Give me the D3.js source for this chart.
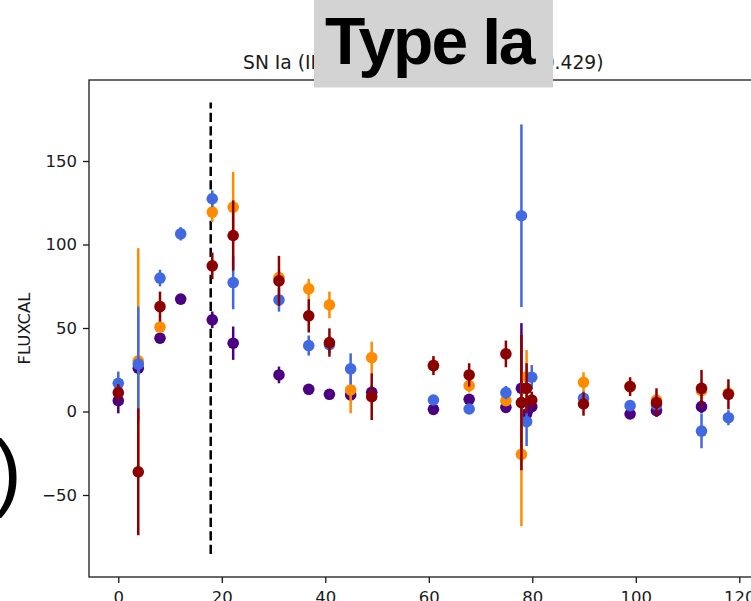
<!DOCTYPE html>
<html>
<head>
<meta charset="utf-8">
<script src="https://cdn.jsdelivr.net/npm/d3@7"></script>
<style>
  html, body { margin: 0; padding: 0; background: #fff; overflow: hidden; }
  svg { display: block; }
  .tick text { font-family: "DejaVu Sans", sans-serif; font-size: 16.5px; fill: #1a1a1a; }
</style>
</head>
<body>
<svg id="chart" width="751" height="601"></svg>
<script>
// Light curve: FLUXCAL vs. days since first detection, one series per passband.
const xTicks = [0, 20, 40, 60, 80, 100, 120];
const yTicks = [-50, 0, 50, 100, 150];

const bandNames  = ["u", "r", "g", "i"];
const bandColors = ["indigo", "darkorange", "royalblue", "darkred"];

const uDays = [0, 3.86, 8.06, 12.06, 18.16, 22.2, 31.05, 36.8, 40.8, 44.9, 48.97, 60.9, 67.8, 74.9, 77.9, 78.9, 79.9, 98.9, 104.0, 112.7];
const uFlux = [6.5, 25.9, 43.9, 67.3, 54.9, 40.9, 21.9, 13.3, 10.3, 9.9, 11.5, 1.3, 7.3, 2.5, 13.9, -1.5, 2.9, -1.5, 0.5, 2.9];
const uErr  = [7.6, 4, 3, 3, 5, 10, 5, 3, 3, 3, 4, 3, 3, 3, 39, 5, 4, 3, 3, 4];

const rDays = [3.86, 8.06, 18.16, 22.2, 31.05, 36.8, 40.8, 44.9, 48.97, 60.9, 67.8, 74.9, 77.9, 78.9, 89.9, 98.9, 104.0, 112.7, 117.9];
const rFlux = [30.4, 50.5, 119.4, 122.4, 80.2, 73.4, 63.8, 12.9, 32.3, 27.6, 15.5, 6.5, -25.7, 20.8, 17.5, 15.0, 6.9, 12.5, 10.9];
const rErr  = [67.4, 3, 6, 21, 4, 6, 8, 14, 9.5, 4, 4, 3, 43, 16, 6, 4, 4, 5, 4];

const gDays = [0, 3.86, 8.06, 12.06, 18.16, 22.2, 31.05, 36.8, 40.8, 44.9, 60.9, 67.8, 74.9, 77.9, 78.9, 79.9, 89.9, 98.9, 104.0, 112.7, 117.9];
const gFlux = [16.9, 28.4, 79.9, 106.4, 127.4, 77.2, 66.8, 39.5, 40.0, 25.5, 6.9, 1.5, 11.3, 117.2, -6.1, 20.5, 7.9, 3.5, 3.9, -11.7, -3.7];
const gErr  = [7, 34.4, 5, 4, 5, 16, 7, 6, 5, 9.3, 3, 3, 4, 54.7, 14.6, 7.3, 4, 3, 3, 10.3, 4.5];

const iDays = [0, 3.86, 8.06, 18.16, 22.2, 31.05, 36.8, 40.8, 48.97, 60.9, 67.8, 74.9, 77.9, 78.9, 79.9, 89.9, 98.9, 104.0, 112.7, 117.9];
const iFlux = [11.3, -36.1, 62.8, 87.2, 105.4, 78.2, 57.3, 41.3, 8.9, 27.5, 21.9, 34.5, 5.3, 13.9, 6.9, 4.5, 14.9, 5.3, 13.9, 10.3];
const iErr  = [5, 38, 9, 8, 21, 15, 10, 8.5, 14, 5.7, 7, 8, 40.5, 15, 5, 7, 5.6, 8.6, 11, 9];

// Vertical marker for the peak epoch.
const peakDay = 17.86;
const peakSpan = [-85.4, 185];

const titleText = "SN Ia (ID: 130779836, redshift=0.429)";
const badgeText = "Type Ia";
const yLabel = "FLUXCAL";

const series = [
  { days: uDays, flux: uFlux, err: uErr },
  { days: rDays, flux: rFlux, err: rErr },
  { days: gDays, flux: gFlux, err: gErr },
  { days: iDays, flux: iFlux, err: iErr }
].map((s, k) => ({
  name: bandNames[k],
  color: bandColors[k],
  points: s.days.map((d, j) => ({ d, f: s.flux[j], e: s.err[j] }))
}));

const svg = d3.select("#chart");
const plotL = 89, plotR = 757.4, plotT = 80, plotB = 577;

const x = d3.scaleLinear().domain([-5.66, 123.5]).range([plotL, plotR]);
const y = d3.scaleLinear().domain([-99.1, 198.5]).range([plotB, plotT]);

const fmt = v => (v < 0 ? "\u2212" + Math.abs(v) : String(v));

// Axes
const gx = svg.append("g").attr("transform", `translate(0,${plotB})`)
  .call(d3.axisBottom(x).tickValues(xTicks).tickFormat(fmt).tickSize(6).tickPadding(5));
const gy = svg.append("g").attr("transform", `translate(${plotL},0)`)
  .call(d3.axisLeft(y).tickValues(yTicks).tickFormat(fmt).tickSize(6).tickPadding(6));
[gx, gy].forEach(g => {
  g.select(".domain").remove();
  g.selectAll(".tick line").attr("stroke", "#1a1a1a").attr("stroke-width", 1.3);
});
gx.selectAll(".tick text").attr("dy", "0.9em");

// Frame
svg.append("rect")
  .attr("x", plotL).attr("y", plotT)
  .attr("width", plotR - plotL).attr("height", plotB - plotT)
  .attr("fill", "none").attr("stroke", "#1a1a1a").attr("stroke-width", 1.3);

// Peak marker
svg.append("line")
  .attr("x1", x(peakDay)).attr("x2", x(peakDay))
  .attr("y1", y(peakSpan[0])).attr("y2", y(peakSpan[1]))
  .attr("stroke", "#000").attr("stroke-width", 2.5)
  .attr("stroke-dasharray", "9.4,4.1");

// Error bars and markers, band by band
series.forEach(s => {
  const g = svg.append("g").attr("class", "band-" + s.name);
  g.selectAll("line").data(s.points).join("line")
    .attr("x1", p => x(p.d)).attr("x2", p => x(p.d))
    .attr("y1", p => y(p.f - p.e)).attr("y2", p => y(p.f + p.e))
    .attr("stroke", s.color).attr("stroke-width", 2.5);
  g.selectAll("circle").data(s.points).join("circle")
    .attr("cx", p => x(p.d)).attr("cy", p => y(p.f))
    .attr("r", 5.8).attr("fill", s.color);
});

// Axis label
svg.append("text")
  .attr("transform", `translate(30,${(plotT + plotB) / 2}) rotate(-90)`)
  .attr("text-anchor", "middle")
  .attr("font-family", "DejaVu Sans, sans-serif")
  .attr("font-size", 16.5).attr("fill", "#1a1a1a")
  .text(yLabel);

// Title
svg.append("text")
  .attr("x", 423.3).attr("y", 69)
  .attr("text-anchor", "middle")
  .attr("font-family", "DejaVu Sans, sans-serif")
  .attr("font-size", 18.7).attr("fill", "#1a1a1a")
  .text(titleText);

// Class badge over the title
svg.append("rect")
  .attr("x", 314).attr("y", 0).attr("width", 239).attr("height", 87.5)
  .attr("fill", "#d3d3d3");
svg.append("text")
  .attr("x", 325).attr("y", 63.5)
  .attr("font-family", "Liberation Sans, Arial, sans-serif")
  .attr("font-weight", "bold").attr("font-size", 66)
  .attr("letter-spacing", "-2px")
  .attr("fill", "#000")
  .text(badgeText);

// Closing parenthesis at the left margin
svg.append("text")
  .attr("x", -6.5).attr("y", 500)
  .attr("font-family", "Liberation Sans, Arial, sans-serif")
  .attr("font-size", 85).attr("fill", "#000")
  .text(")");
</script>
</body>
</html>
